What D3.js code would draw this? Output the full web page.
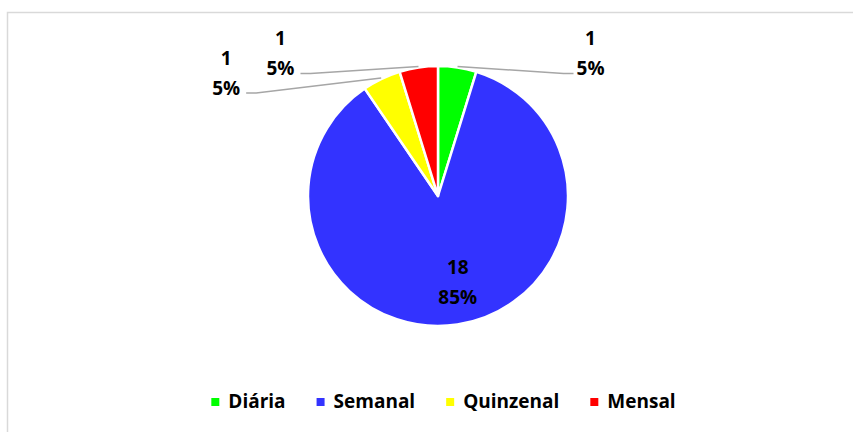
<!DOCTYPE html>
<html>
<head>
<meta charset="utf-8">
<script src="https://cdn.jsdelivr.net/npm/d3@7"></script>
<style>
  body { margin: 0; background: #fff; }
  svg text { font-family: "Open Sans", Lato, sans-serif; font-weight: bold; fill: #000; }
</style>
</head>
<body>
<svg width="853" height="432"></svg>
<script>
// dados do gráfico
var categorias = ["Diária", "Semanal", "Quinzenal", "Mensal"];
var valores = [1, 18, 1, 1];
var percentuais = ["5%", "85%", "5%", "5%"];
var cores = ["#00ff00", "#3333ff", "#ffff00", "#ff0000"];

var svg = d3.select("svg"),
  width = +svg.attr("width"),
  height = +svg.attr("height"),
  cx = 438, cy = 196, raio = 130,
  fonte = "19px";

// moldura da área do gráfico
svg.append("rect")
  .attr("x", 7.5).attr("y", 12.5)
  .attr("width", width).attr("height", height)
  .attr("fill", "none").attr("stroke", "#d9d9d9").attr("stroke-width", 1.5);

var pie = d3.pie().sort(null).value(function(d) { return d; });
var fatias = pie(valores);
var arc = d3.arc().innerRadius(0).outerRadius(raio);

var g = svg.append("g").attr("transform", "translate(" + cx + "," + cy + ")");

g.selectAll("path")
  .data(fatias)
  .enter().append("path")
  .attr("d", arc)
  .attr("fill", function(d, i) { return cores[i]; })
  .attr("stroke", "#fff")
  .attr("stroke-width", 2.5)
  .attr("stroke-linejoin", "round");

// rótulos externos: ponta da linha guia (dx, dy relativos à borda da fatia)
var guia = [[116, 7], null, [-135, 15], [-118, 7]];
var borda = d3.arc().innerRadius(raio + 1).outerRadius(raio + 1);

fatias.forEach(function(d, i) {
  var rot = valores[i] + "";
  if (guia[i] === null) {
    // rótulo interno
    var c = d3.arc().innerRadius(0).outerRadius(raio * 1.32).centroid(d);
    var t = g.append("text").attr("text-anchor", "middle").style("font-size", fonte);
    t.append("tspan").attr("x", c[0] + 7).attr("y", c[1] - 7).text(rot);
    t.append("tspan").attr("x", c[0] + 7).attr("y", c[1] + 23).text(percentuais[i]);
    return;
  }
  var p0 = borda.centroid(d);
  var lado = guia[i][0] > 0 ? 1 : -1;
  var p2 = [p0[0] + guia[i][0], p0[1] + guia[i][1]];
  var p1 = [p2[0] - lado * 10, p2[1]];
  g.append("path")
    .attr("d", d3.line()([p0, p1, p2]))
    .attr("fill", "none")
    .attr("stroke", "#a6a6a6")
    .attr("stroke-width", 1.5);
  var tx = p2[0] + (lado > 0 ? 17 : -20);
  var t = g.append("text").attr("text-anchor", "middle").style("font-size", fonte);
  t.append("tspan").attr("x", tx).attr("y", p2[1] - 28).text(rot);
  t.append("tspan").attr("x", tx).attr("y", p2[1] + 2).text(percentuais[i]);
});

// legenda
var leg = svg.append("g");
var x = 0;
categorias.forEach(function(c, i) {
  var it = leg.append("g").attr("transform", "translate(" + x + ",0)");
  it.append("rect").attr("x", 0).attr("y", -10).attr("width", 8).attr("height", 8).attr("fill", cores[i]);
  var t = it.append("text").attr("x", 17).attr("y", 0).style("font-size", fonte).text(c);
  x += 17 + t.node().getComputedTextLength() + 31;
});
var larg = x - 31;
leg.attr("transform", "translate(" + (443.5 - larg / 2) + ",408)");
</script>
</body>
</html>
